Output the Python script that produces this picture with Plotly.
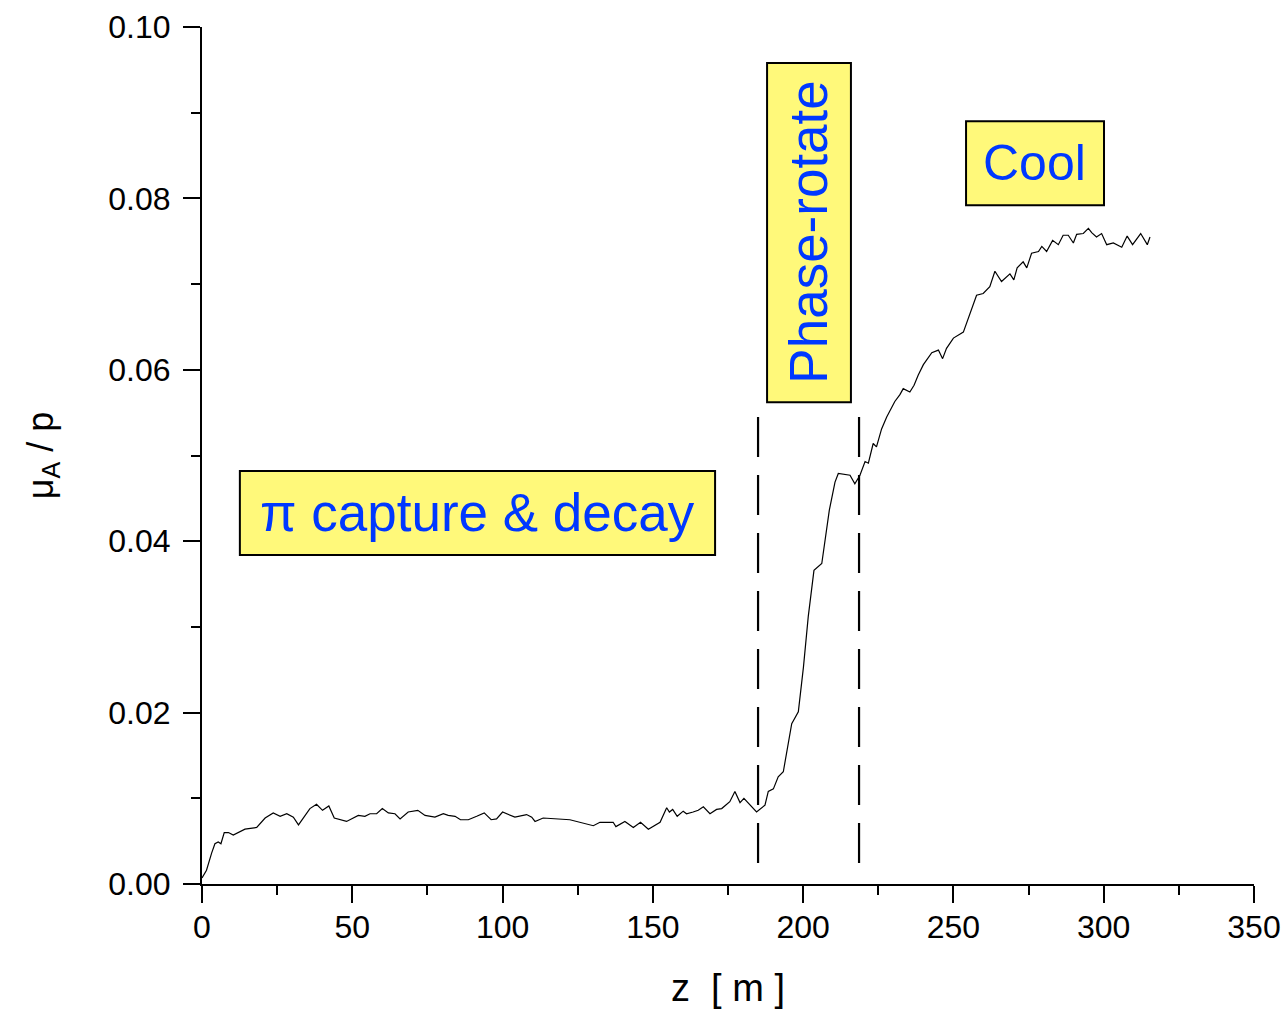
import plotly.graph_objects as go

# ---- data ----
z_m = [0, 1.5, 3.2, 4.3, 5.4, 6.3, 7.4, 8.8, 10.4, 12.1, 14.3, 18.2, 21.0, 23.7, 26.0, 28.2,
       30.4, 32.1, 35.9, 38.1, 40.1, 42.2, 44.0, 48.1, 52.0, 54.2, 55.9, 58.1, 60.0, 62.0,
       64.2, 65.9, 68.6, 71.8, 74.2, 77.5, 80.3, 81.9, 84.2, 86.0, 88.6, 91.4, 93.9, 96.2,
       98.0, 100.0, 104.1, 108.0, 109.7, 110.8, 113.5, 122.4, 130.2, 132.4, 136.8, 137.7,
       140.7, 143.5, 145.9, 148.5, 152.4, 154.6, 155.5, 156.6, 158.1, 160.1, 161.2, 163.4,
       165.1, 166.8, 169.0, 171.2, 172.9, 175.6, 177.3, 179.0, 180.3, 184.5, 187.3, 188.4,
       190.1, 191.7, 193.4, 196.2, 198.4, 200.1, 201.7, 203.6, 206.2, 208.7, 210.6, 211.7,
       215.6, 217.2, 218.9, 220.6, 221.7, 223.3, 224.4, 226.1, 227.8, 230.5, 232.2, 233.3,
       235.5, 236.9, 238.3, 240.0, 242.8, 245.0, 246.4, 247.7, 250.0, 253.3, 256.1, 257.7,
       259.9, 262.1, 263.8, 266.0, 268.8, 270.1, 271.2, 273.2, 274.4, 276.0, 278.3, 279.4,
       281.0, 283.0, 284.9, 286.5, 288.2, 289.9, 291.0, 293.2, 294.9, 296.0, 297.6, 299.3,
       301.0, 303.2, 306.0, 307.8, 309.6, 312.3, 314.5, 315.4]

mu_over_p = [0.0007, 0.0016, 0.0036, 0.0047, 0.0049, 0.0047, 0.0060, 0.0060, 0.0057, 0.0060,
             0.0064, 0.0066, 0.0077, 0.0083, 0.0079, 0.0082, 0.0078, 0.0069, 0.0088, 0.0093,
             0.0086, 0.0091, 0.0077, 0.0073, 0.0080, 0.0079, 0.0082, 0.0082, 0.0088, 0.0083,
             0.0082, 0.0076, 0.0084, 0.0086, 0.0080, 0.0078, 0.0082, 0.0080, 0.0079, 0.0075,
             0.0075, 0.0079, 0.0083, 0.0075, 0.0076, 0.0084, 0.0078, 0.0081, 0.0078, 0.0073,
             0.0077, 0.0075, 0.0068, 0.0072, 0.0072, 0.0067, 0.0073, 0.0066, 0.0072, 0.0064,
             0.0072, 0.0089, 0.0084, 0.0087, 0.0079, 0.0085, 0.0082, 0.0084, 0.0086, 0.0090,
             0.0082, 0.0087, 0.0088, 0.0096, 0.0108, 0.0095, 0.0100, 0.0084, 0.0092, 0.0108,
             0.0111, 0.0125, 0.0131, 0.0187, 0.0201, 0.0253, 0.0312, 0.0366, 0.0374, 0.0436,
             0.0469, 0.0479, 0.0477, 0.0467, 0.0477, 0.0493, 0.0491, 0.0514, 0.0510, 0.0531,
             0.0545, 0.0563, 0.0571, 0.0578, 0.0574, 0.0582, 0.0594, 0.0606, 0.0620, 0.0623,
             0.0613, 0.0625, 0.0637, 0.0644, 0.0670, 0.0687, 0.0689, 0.0697, 0.0715, 0.0703,
             0.0712, 0.0705, 0.0719, 0.0726, 0.0719, 0.0736, 0.0738, 0.0744, 0.0738, 0.0751,
             0.0746, 0.0757, 0.0757, 0.0748, 0.0758, 0.0759, 0.0765, 0.0760, 0.0755, 0.0759,
             0.0746, 0.0748, 0.0743, 0.0756, 0.0746, 0.0759, 0.0746, 0.0755]

# section boundaries (dashed lines)
boundary_z = [185.0, 218.6]
boundary_y = [0.0545, 0.0020]

# section labels
section_labels = ["\u03c0 capture & decay", "Phase-rotate", "Cool"]

x_ticks = [0, 50, 100, 150, 200, 250, 300, 350]
y_ticks = [0.00, 0.02, 0.04, 0.06, 0.08, 0.10]

FONT = "Liberation Sans, Arial, sans-serif"
BOX_FILL = "#FFF97A"
TEXT_BLUE = "#0038FF"

fig = go.Figure()

fig.add_trace(go.Scatter(x=z_m, y=mu_over_p, mode="lines",
                         line=dict(color="black", width=1.2), showlegend=False))

for bz in boundary_z:
    fig.add_trace(go.Scatter(x=[bz, bz], y=boundary_y, mode="lines",
                             line=dict(color="black", width=2.2, dash="40px,18px"),
                             showlegend=False))

# label boxes (layout positions)
boxes = [
    dict(x0=12.6, x1=170.7, y0=0.0384, y1=0.0482, tx=91.6, ty=0.0433, angle=0, size=53),
    dict(x0=188.0, x1=215.9, y0=0.0562, y1=0.0958, tx=201.9, ty=0.0761, angle=-90, size=53),
    dict(x0=254.2, x1=300.1, y0=0.0792, y1=0.0890, tx=277.1, ty=0.0841, angle=0, size=50),
]
for b, label in zip(boxes, section_labels):
    fig.add_shape(type="rect", xref="x", yref="y", x0=b["x0"], x1=b["x1"], y0=b["y0"], y1=b["y1"],
                  fillcolor=BOX_FILL, line=dict(color="black", width=2), layer="above")
    fig.add_annotation(x=b["tx"], y=b["ty"], xref="x", yref="y", text=label, showarrow=False,
                       textangle=b["angle"], font=dict(family=FONT, size=b["size"], color=TEXT_BLUE),
                       xanchor="center", yanchor="middle")

fig.update_layout(
    width=1285, height=1012,
    margin=dict(l=202, r=31, t=27, b=128, autoexpand=False),
    paper_bgcolor="white", plot_bgcolor="white",
    font=dict(family=FONT, color="black"),
    showlegend=False,
)

fig.update_xaxes(
    range=[0, 350], tickvals=x_ticks, ticktext=[str(v) for v in x_ticks],
    automargin=False,
    showgrid=False, zeroline=False, showline=True, linecolor="black", linewidth=2,
    ticks="outside", ticklen=17, tickwidth=2, tickcolor="black", ticklabelstandoff=-3,
    tickfont=dict(family=FONT, size=32, color="black"),
    minor=dict(dtick=25, tick0=0, ticks="outside", ticklen=9, tickwidth=2, tickcolor="black",
               showgrid=False),
    title=dict(text="z  [ m ]", font=dict(family=FONT, size=38, color="black"), standoff=30),
)

fig.update_yaxes(
    range=[0, 0.10], tickvals=y_ticks, ticktext=[f"{v:.2f}" for v in y_ticks],
    automargin=False,
    showgrid=False, zeroline=False, showline=True, linecolor="black", linewidth=2,
    ticks="outside", ticklen=17, tickwidth=2, tickcolor="black", ticklabelstandoff=6,
    tickfont=dict(family=FONT, size=32, color="black"),
    minor=dict(dtick=0.01, tick0=0, ticks="outside", ticklen=9, tickwidth=2, tickcolor="black",
               showgrid=False),
    title=dict(text="\u03bc<sub>A</sub> / p", font=dict(family=FONT, size=36, color="black"),
               standoff=44),
)

fig.write_html("out.html", config={"displayModeBar": False},
               post_script="document.body.style.margin='0';document.body.style.overflow='hidden';")
